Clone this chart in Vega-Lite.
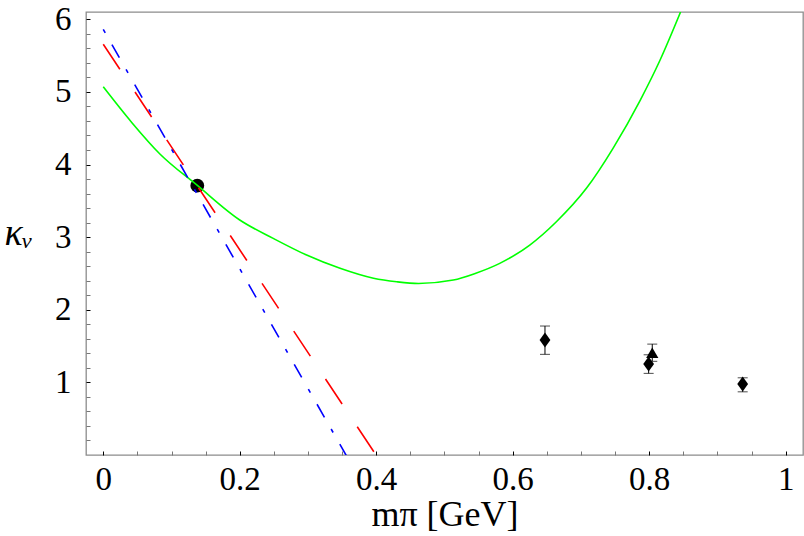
{
  "$schema": "https://vega.github.io/schema/vega-lite/v6.json",
  "width": 717,
  "height": 443,
  "autosize": {"type": "none"},
  "padding": {"left": 86, "top": 12, "right": 1, "bottom": 81},
  "background": "white",
  "config": {
    "view": {"stroke": "#8c8c8c", "strokeWidth": 1.3},
    "axis": {
      "domain": false,
      "grid": false,
      "labelFont": "Liberation Serif",
      "labelFontSize": 33,
      "labelColor": "black",
      "titleFont": "Liberation Serif",
      "titleFontSize": 36,
      "titleFontWeight": "normal",
      "titleColor": "black"
    }
  },
  "datasets": {
    "green": [
      {"x": 0.0, "y": 5.07},
      {"x": 0.042, "y": 4.576},
      {"x": 0.083, "y": 4.145},
      {"x": 0.137, "y": 3.718},
      {"x": 0.2, "y": 3.236},
      {"x": 0.249, "y": 2.983},
      {"x": 0.298, "y": 2.753},
      {"x": 0.347, "y": 2.57},
      {"x": 0.396, "y": 2.433},
      {"x": 0.43, "y": 2.385},
      {"x": 0.462, "y": 2.362},
      {"x": 0.513, "y": 2.409},
      {"x": 0.545, "y": 2.5},
      {"x": 0.581, "y": 2.639},
      {"x": 0.625, "y": 2.891},
      {"x": 0.664, "y": 3.212},
      {"x": 0.708, "y": 3.672},
      {"x": 0.747, "y": 4.223},
      {"x": 0.787, "y": 4.888},
      {"x": 0.816, "y": 5.439},
      {"x": 0.846, "y": 6.1}
    ],
    "red": [
      {"x": 0.0, "y": 5.656},
      {"x": 0.43, "y": -0.43}
    ],
    "blue": [
      {"x": 0.0, "y": 5.86},
      {"x": 0.386, "y": -0.5}
    ],
    "circle": [
      {"x": 0.1378, "y": 3.708}
    ],
    "diamonds": [
      {"x": 0.6473, "y": 1.583, "lo": 1.386, "hi": 1.776},
      {"x": 0.7992, "y": 1.252, "lo": 1.124, "hi": 1.38},
      {"x": 0.937, "y": 0.977, "lo": 0.87, "hi": 1.063}
    ],
    "triangles": [
      {"x": 0.8045, "y": 1.408, "lo": 1.29, "hi": 1.527}
    ]
  },
  "encoding": {
    "x": {
      "field": "x",
      "type": "quantitative",
      "scale": {"domain": [-0.0253, 1.0254], "nice": false, "zero": false},
      "axis": {
        "title": "mπ [GeV]",
        "values": [0, 0.05, 0.1, 0.15, 0.2, 0.25, 0.3, 0.35, 0.4, 0.45, 0.5, 0.55, 0.6, 0.65, 0.7, 0.75, 0.8, 0.85, 0.9, 0.95, 1],
        "labelExpr": "abs(datum.value*5 - round(datum.value*5)) < 1e-6 ? format(datum.value, '~g') : ''",
        "tickSize": -4,
        "tickColor": {"condition": {"test": "abs(datum.value*5 - round(datum.value*5)) < 1e-6", "value": "#000000"}, "value": "#777777"},
        "labelPadding": 12,
        "labelFlush": false,
        "labelOverlap": false,
        "titlePadding": 1
      }
    },
    "y": {
      "field": "y",
      "type": "quantitative",
      "scale": {"domain": [0, 6.1], "nice": false, "zero": false},
      "axis": {
        "title": "κᵥ",
        "titleAngle": 0,
        "titleFontStyle": "italic",
        "titleFontSize": 38,
        "titleAlign": "left",
        "titleBaseline": "middle",
        "titleX": -82,
        "titleY": 221,
        "values": [0.2, 0.4, 0.6, 0.8, 1, 1.2, 1.4, 1.6, 1.8, 2, 2.2, 2.4, 2.6, 2.8, 3, 3.2, 3.4, 3.6, 3.8, 4, 4.2, 4.4, 4.6, 4.8, 5, 5.2, 5.4, 5.6, 5.8, 6],
        "labelExpr": "abs(datum.value - round(datum.value)) < 1e-6 ? format(datum.value, '~g') : ''",
        "tickSize": -4,
        "tickColor": {"condition": {"test": "abs(datum.value - round(datum.value)) < 1e-6", "value": "#000000"}, "value": "#777777"},
        "labelPadding": 19,
        "labelFlush": false,
        "labelOverlap": false
      }
    }
  },
  "layer": [
    {
      "data": {"name": "circle"},
      "mark": {"type": "point", "shape": "circle", "filled": true, "color": "black", "size": 190, "opacity": 1}
    },
    {
      "data": {"name": "green"},
      "mark": {"type": "line", "color": "#00ff00", "strokeWidth": 1.6, "clip": true, "interpolate": "monotone"}
    },
    {
      "data": {"name": "red"},
      "mark": {"type": "line", "color": "#ff0000", "strokeWidth": 1.6, "clip": true, "strokeDash": [30, 27.4]}
    },
    {
      "data": {"name": "blue"},
      "mark": {"type": "line", "color": "#0000ff", "strokeWidth": 1.6, "clip": true, "strokeDash": [4, 13.5, 15, 13.5]}
    },
    {
      "data": {"name": "diamonds"},
      "mark": {"type": "errorbar", "ticks": {"size": 10, "color": "black", "thickness": 1}, "rule": {"color": "black", "strokeWidth": 1}},
      "encoding": {
        "y": {"field": "lo", "type": "quantitative"},
        "y2": {"field": "hi"}
      }
    },
    {
      "data": {"name": "triangles"},
      "mark": {"type": "errorbar", "ticks": {"size": 10, "color": "black", "thickness": 1}, "rule": {"color": "black", "strokeWidth": 1}},
      "encoding": {
        "y": {"field": "lo", "type": "quantitative"},
        "y2": {"field": "hi"}
      }
    },
    {
      "data": {"name": "triangles"},
      "mark": {"type": "point", "shape": "triangle-up", "filled": true, "color": "black", "size": 150, "opacity": 1}
    },
    {
      "data": {"name": "diamonds"},
      "mark": {"type": "point", "shape": "M0,-1L0.72,0L0,1L-0.72,0Z", "filled": true, "color": "black", "size": 225, "opacity": 1}
    }
  ]
}
